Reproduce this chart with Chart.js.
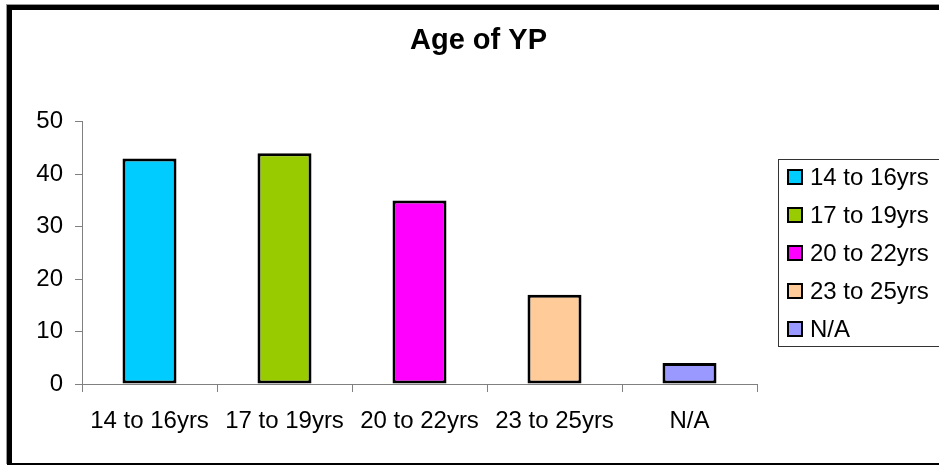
<!DOCTYPE html>
<html>
<head>
<meta charset="utf-8">
<title>Age of YP</title>
<script src="https://cdn.jsdelivr.net/npm/chart.js@4"></script>
<style>
  html, body { margin: 0; padding: 0; background: #fff; overflow: hidden; }
  body { width: 939px; height: 465px; position: relative; }
  .frame {
    position: absolute; left: 7px; top: 5px;
    width: 1000px; height: 453px;
    border-top: 5px solid #000; border-left: 5px solid #000; border-bottom: 2px solid #000;
    box-shadow: -1px -1px 0 #999;
  }
  #chart { position: absolute; left: 0; top: 0; }
</style>
</head>
<body>
<div class="frame"></div>
<canvas id="chart" width="957" height="465"></canvas>
<script>
  const titleText = "Age of YP";
  const categories = ["14 to 16yrs", "17 to 19yrs", "20 to 22yrs", "23 to 25yrs", "N/A"];
  const counts = [43, 44, 35, 17, 4];
  const barColors = ["#00CCFF", "#99CC00", "#FF00FF", "#FFCC99", "#9999FF"];
  const yTicks = [0, 10, 20, 30, 40, 50];

  const FONT = "'Liberation Sans', Arial, sans-serif";

  // legend on the right, done as a layout box so the title stays centred on the whole frame
  const legendBox = {
    position: "right",
    weight: 1000,
    fullSize: false,
    options: {},
    left: 0, top: 0, right: 0, bottom: 0, width: 0, height: 0,
    chart: null,
    isHorizontal() { return false; },
    update(maxWidth, maxHeight) {
      this.width = 200;
      this.height = maxHeight;
    },
    draw() {
      const ctx = this.chart.ctx;
      const rowGap = 38;
      const boxH = 187;
      const frameX = this.left + 21;
      const cy = (this.top + this.bottom) / 2;
      const frameY = Math.round(cy - boxH / 2) + 0.5;
      ctx.save();
      ctx.strokeStyle = "#333";
      ctx.lineWidth = 1;
      ctx.strokeRect(frameX + 0.5, frameY, 300, boxH);
      ctx.font = "24px " + FONT;
      ctx.textBaseline = "middle";
      categories.forEach((label, i) => {
        const y = cy + (i - 2) * rowGap;
        const sx = frameX + 9;
        ctx.fillStyle = "#000";
        ctx.fillRect(sx, Math.round(y - 8), 16, 16);
        ctx.fillStyle = barColors[i];
        ctx.fillRect(sx + 2, Math.round(y - 8) + 2, 12, 12);
        ctx.fillStyle = "#000";
        ctx.fillText(label, sx + 23, y + 1);
      });
      ctx.restore();
    }
  };

  const customLegend = {
    id: "customLegend",
    beforeInit(chart) {
      legendBox.chart = chart;
      Chart.layouts.addBox(chart, legendBox);
    }
  };

  const ctx = document.getElementById("chart").getContext("2d");
  new Chart(ctx, {
    type: "bar",
    data: {
      labels: categories,
      datasets: [{
        label: titleText,
        data: counts,
        backgroundColor: barColors,
        borderColor: "#000",
        borderWidth: 3,
        borderSkipped: false,
        barPercentage: 0.4,
        categoryPercentage: 1.0,
      }],
    },
    options: {
      responsive: false,
      animation: false,
      events: [],
      layout: { padding: 0 },
      plugins: {
        legend: { display: false },
        tooltip: { enabled: false },
        title: {
          display: true,
          text: titleText,
          color: "#000",
          font: { family: FONT, size: 29, weight: "bold", lineHeight: 1.2 },
          padding: { top: 24, bottom: 63 },
        },
      },
      scales: {
        x: {
          offset: true,
          grid: { offset: true, drawOnChartArea: false, drawTicks: true, tickLength: 8, color: "#808080" },
          border: { display: true, color: "#808080", width: 1 },
          ticks: { color: "#000", font: { family: FONT, size: 24 }, padding: 15, maxRotation: 0 },
          afterFit(scale) { scale.height = 81; },
        },
        y: {
          min: 0,
          max: 50,
          grid: { drawOnChartArea: false, drawTicks: true, tickLength: 7, color: "#808080" },
          border: { display: true, color: "#808080", width: 1 },
          ticks: {
            color: "#000",
            font: { family: FONT, size: 24 },
            padding: 12,
            stepSize: 10,
          },
          afterBuildTicks(scale) { scale.ticks = yTicks.map(v => ({ value: v })); },
          afterFit(scale) { scale.width = 82; },
        },
      },
    },
    plugins: [customLegend],
  });
</script>
</body>
</html>
